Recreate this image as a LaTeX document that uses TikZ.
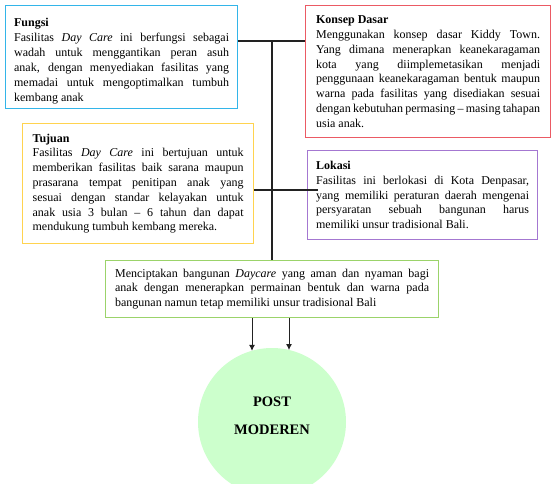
\documentclass[tikz,border=0pt]{standalone}
\usepackage{fontspec}
\setmainfont{Liberation Serif}
\usetikzlibrary{arrows.meta}
\definecolor{cFungsi}{HTML}{33B5E9}
\definecolor{cKonsep}{HTML}{EB5A64}
\definecolor{cTujuan}{HTML}{FFD34F}
\definecolor{cLokasi}{HTML}{A477D1}
\definecolor{cCipta}{HTML}{9BD36A}
\definecolor{cCircle}{HTML}{CCFFCC}
\definecolor{cLine}{HTML}{222222}
\newcommand\jl[1]{\hbox to\hsize{#1}}
\newcommand\lastln[1]{\hbox{#1}}
\newcommand\ttl[1]{\hbox{\bfseries #1}}
\newcommand\txt[2]{\vbox{\hsize=#1pt\fontsize{12}{14.8}\selectfont #2}}
\tikzset{
  infobox/.style={draw=#1, line width=1.2pt, fill=white, anchor=north west, inner sep=0pt, text=black},
  conn/.style={draw=cLine, line width=1.5pt},
  thinconn/.style={draw=cLine, line width=1.1pt},
  arr/.style={draw=cLine, line width=0.8pt, -{Latex[length=6pt,width=6pt]}}
}
\begin{document}
\begin{tikzpicture}[x=1pt,y=-1pt]
\useasboundingbox (0,0) rectangle (551,484);
\clip (0,0) rectangle (551,484);
\fill[white] (0,0) rectangle (551,484);

\node[infobox=cFungsi, minimum width=232, minimum height=103] (F) at (5,5) {\txt{215}{\baselineskip=15pt
\vskip 8pt
\ttl{Fungsi}
\jl{Fasilitas \textit{Day Care} ini berfungsi sebagai}
\jl{wadah untuk menggantikan peran asuh}
\jl{anak, dengan menyediakan fasilitas yang}
\jl{memadai untuk mengoptimalkan tumbuh}
\lastln{kembang anak}}};

\node[infobox=cKonsep, minimum width=245, minimum height=132] (K) at (305,5) {\txt{224}{%
\ttl{Konsep Dasar}
\jl{Menggunakan konsep dasar Kiddy Town.}
\jl{Yang dimana menerapkan keanekaragaman}
\jl{kota yang diimplemetasikan menjadi}
\jl{penggunaan keanekaragaman bentuk maupun}
\jl{warna pada fasilitas yang disediakan sesuai}
\jl{dengan kebutuhan permasing – masing tahapan}
\lastln{usia anak.}}};

\node[infobox=cTujuan, minimum width=231, minimum height=120] (T) at (22,123) {\txt{211}{%
\ttl{Tujuan}
\jl{Fasilitas \textit{Day Care} ini bertujuan untuk}
\jl{memberikan fasilitas baik sarana maupun}
\jl{prasarana tempat penitipan anak yang}
\jl{sesuai dengan standar kelayakan untuk}
\jl{anak usia 3 bulan – 6 tahun dan dapat}
\lastln{mendukung tumbuh kembang mereka.}}};

\node[infobox=cLokasi, minimum width=230, minimum height=89] (L) at (307,150) {\txt{213}{%
\ttl{Lokasi}
\jl{Fasilitas ini berlokasi di Kota Denpasar,}
\jl{yang memiliki peraturan daerah mengenai}
\jl{persyaratan sebuah bangunan harus}
\lastln{memiliki unsur tradisional Bali.}}};

\node[infobox=cCipta, minimum width=333, minimum height=57] (M) at (105,260) {\txt{314}{%
\jl{Menciptakan bangunan \textit{Daycare} yang aman dan nyaman bagi}
\jl{anak dengan menerapkan permainan bentuk dan warna pada}
\lastln{bangunan namun tetap memiliki unsur tradisional Bali}}};

\node[circle, fill=cCircle, minimum size=148, inner sep=0pt] (P) at (272,422) {\vbox{\hsize=100pt\fontsize{14.5}{28}\selectfont\bfseries
\hbox to\hsize{\hfil POST\hfil}
\hbox to\hsize{\hfil MODEREN\hfil}
\vskip 12pt}};

% connectors
\coordinate (J) at (272,41);
\coordinate (LK) at (318,190);
\coordinate (a1) at (252,350.8);
\coordinate (a2) at (289,350);
\draw[conn] (F.east |- J) -- (K.west |- J);
\draw[conn] (J) -- (M.north -| J);
\draw[thinconn] (T.east |- LK) -- (LK);
\draw[arr] (M.south -| a1) -- (a1);
\draw[arr] (M.south -| a2) -- (a2);
\end{tikzpicture}
\end{document}
